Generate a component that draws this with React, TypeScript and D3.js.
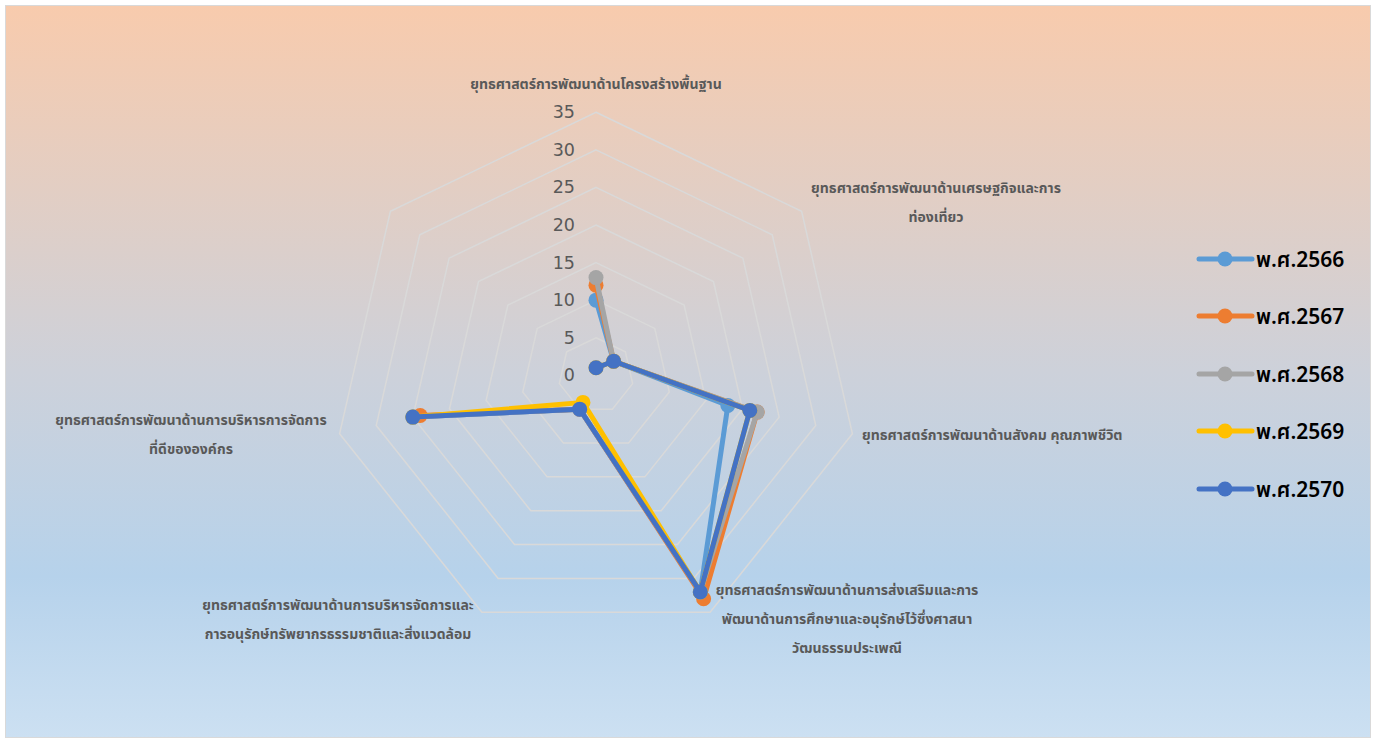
import React from "react";
import * as d3 from "d3";

const categories: string[][] = [
  ["ยุทธศาสตร์การพัฒนาด้านโครงสร้างพื้นฐาน"],
  ["ยุทธศาสตร์การพัฒนาด้านเศรษฐกิจและการ", "ท่องเที่ยว"],
  ["ยุทธศาสตร์การพัฒนาด้านสังคม คุณภาพชีวิต"],
  ["ยุทธศาสตร์การพัฒนาด้านการส่งเสริมและการ", "พัฒนาด้านการศึกษาและอนุรักษ์ไว้ซึ่งศาสนา", "วัฒนธรรมประเพณี"],
  ["ยุทธศาสตร์การพัฒนาด้านการบริหารจัดการและ", "การอนุรักษ์ทรัพยากรธรรมชาติและสิ่งแวดล้อม"],
  ["ยุทธศาสตร์การพัฒนาด้านการบริหารการจัดการ", "ที่ดีขององค์กร"],
  [],
];

const seriesNames = ["พ.ศ.2566", "พ.ศ.2567", "พ.ศ.2568", "พ.ศ.2569", "พ.ศ.2570"];
const values2566: (number | null)[] = [10, 3, 18, 32, 5, 25, null];
const values2567: (number | null)[] = [12, 3, 22, 33, 5, 24, null];
const values2568: (number | null)[] = [13, 3, 22, 32, 5, 25, null];
const values2569: (number | null)[] = [1, 3, 21, 32, 4, 25, null];
const values2570: (number | null)[] = [1, 3, 21, 32, 5, 25, null];
const seriesValues = [values2566, values2567, values2568, values2569, values2570];
const colors = ["#5B9BD5", "#ED7D31", "#A5A5A5", "#FFC000", "#4472C4"];
const ticks = [0, 5, 10, 15, 20, 25, 30, 35];

// label layout: [centerX, firstBaselineY, anchor]
const labelLayout: [number, number, string][] = [
  [596, 89, "middle"],
  [936, 193, "middle"],
  [862, 440, "start"],
  [847, 595, "middle"],
  [338, 610, "middle"],
  [191, 425, "middle"],
  [0, 0, "middle"],
];

const W = 1378, H = 742;
const cx = 596, cy = 375.3, R = 263;
const thaiFont = "Tahoma, 'Leelawadee UI', 'Noto Sans Thai', 'DejaVu Sans', sans-serif";

export default function App() {
  const n = categories.length;
  const r = d3.scaleLinear().domain([0, 35]).range([0, R]);
  const ang = (i: number) => (i * 2 * Math.PI) / n;
  const px = (i: number, v: number) => cx + r(v) * Math.sin(ang(i));
  const py = (i: number, v: number) => cy - r(v) * Math.cos(ang(i));

  const rings = ticks.slice(1).map((t) => {
    const pts = d3.range(n).map((i) => [px(i, t), py(i, t)] as [number, number]);
    return d3.line().curve(d3.curveLinearClosed)(pts) as string;
  });

  const line = d3
    .line<[number, number | null]>()
    .defined((d) => d[1] !== null)
    .x((d) => px(d[0], d[1] as number))
    .y((d) => py(d[0], d[1] as number));

  const legendY = [259, 316, 374, 431, 489];

  return (
    <svg width={W} height={H} style={{ position: "absolute", left: 0, top: 0 }}>
      <defs>
        <linearGradient id="bg" x1="0" y1="0" x2="0" y2="1">
          <stop offset="0" stopColor="#F8CBAD" />
          <stop offset="0.5" stopColor="#CDD1DA" />
          <stop offset="0.78" stopColor="#B6D2EB" />
          <stop offset="1" stopColor="#CCE0F2" />
        </linearGradient>
      </defs>
      <rect x={0} y={0} width={W} height={H} fill="#ffffff" />
      <rect x={5.5} y={5.5} width={1365} height={732} fill="url(#bg)" stroke="#D9D9D9" strokeWidth={1} />
      {rings.map((d, i) => (
        <path key={i} d={d} fill="none" stroke="#D9D9D9" strokeWidth={1.5} />
      ))}
      {ticks.map((t) => (
        <text key={t} x={575} y={cy - r(t) + 6} textAnchor="end" fontFamily="'DejaVu Sans', Verdana, sans-serif" fontSize={17.5} fill="#595959">
          {t}
        </text>
      ))}
      {categories.map((lines, i) =>
        lines.map((s, j) => (
          <text
            key={i + "-" + j}
            x={labelLayout[i][0]}
            y={labelLayout[i][1] + j * 29}
            textAnchor={labelLayout[i][2] as any}
            fontFamily={thaiFont}
            fontSize={14}
            fontWeight="bold"
            fill="#595959"
          >
            {s}
          </text>
        ))
      )}
      {seriesValues.map((vals, s) => {
        const data = vals.map((v, i) => [i, v] as [number, number | null]);
        return (
          <g key={s}>
            <path d={line(data) as string} fill="none" stroke={colors[s]} strokeWidth={5} strokeLinejoin="round" strokeLinecap="round" />
            {data
              .filter((d) => d[1] !== null)
              .map((d) => (
                <circle key={d[0]} cx={px(d[0], d[1] as number)} cy={py(d[0], d[1] as number)} r={7.5} fill={colors[s]} />
              ))}
          </g>
        );
      })}
      {seriesNames.map((name, s) => (
        <g key={name}>
          <line x1={1199} x2={1252} y1={legendY[s]} y2={legendY[s]} stroke={colors[s]} strokeWidth={5} strokeLinecap="round" />
          <circle cx={1225} cy={legendY[s]} r={7.5} fill={colors[s]} />
          <text x={1256} y={legendY[s] + 8} fontFamily={thaiFont} fontSize={21} fontWeight={600} fill="#000000">
            {name}
          </text>
        </g>
      ))}
    </svg>
  );
}
